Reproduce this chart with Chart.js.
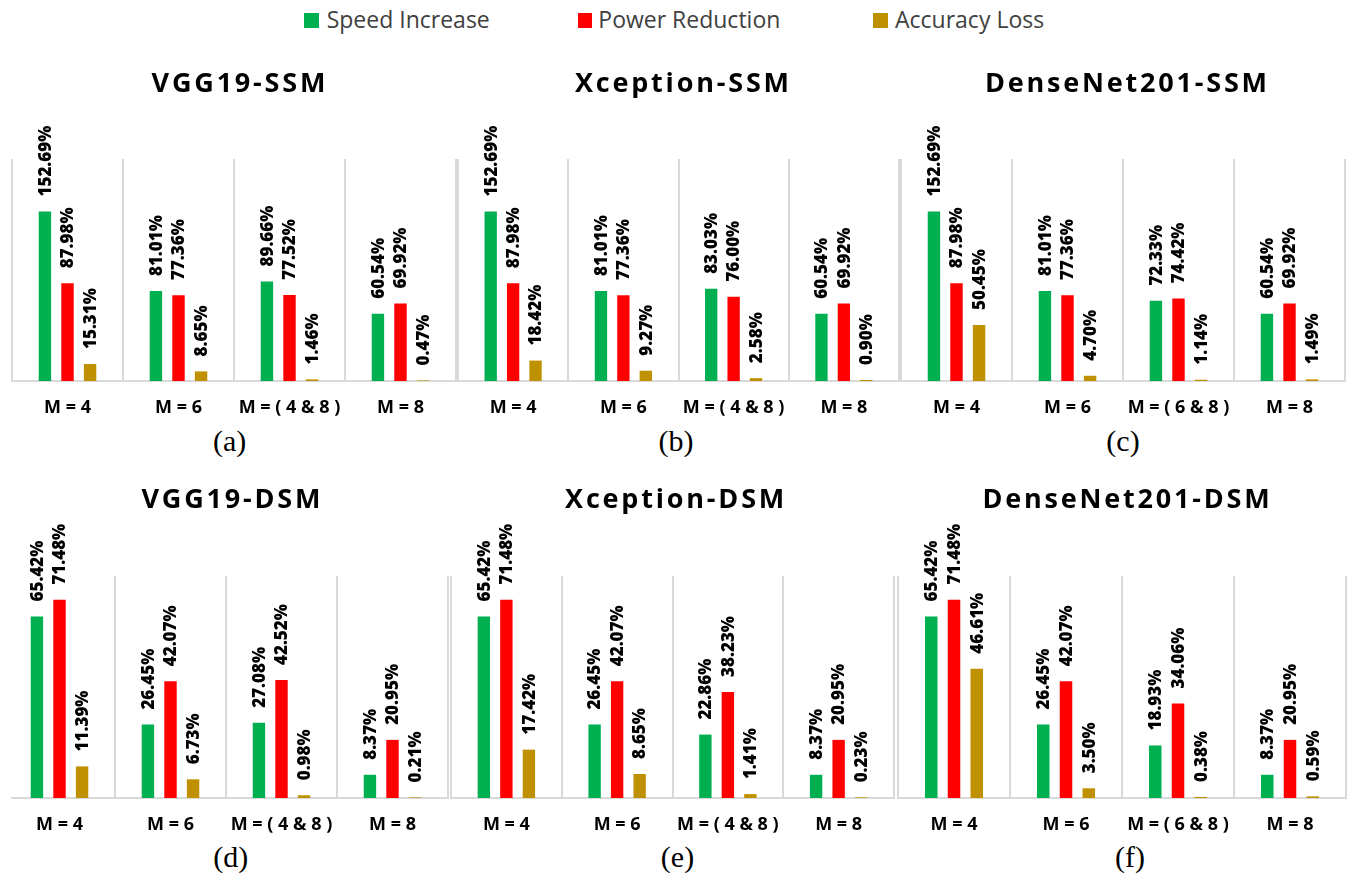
<!DOCTYPE html>
<html><head><meta charset="utf-8">
<script src="https://cdn.jsdelivr.net/npm/chart.js@4.4.1/dist/chart.umd.min.js"></script>
<style>
html,body{margin:0;padding:0;background:#fff;}
body{width:1351px;height:874px;overflow:hidden;position:relative;}
canvas{position:absolute;}
.clip{position:absolute;overflow:hidden;}
.title{position:absolute;width:400px;text-align:center;font:700 27px "Open Sans";letter-spacing:2.8px;line-height:27px;color:#000;white-space:nowrap;}
.cap{position:absolute;width:100px;text-align:center;font:400 30px "Liberation Serif";line-height:30px;color:#000;white-space:nowrap;}
.sw{position:absolute;width:14.7px;height:15px;}
.lt{position:absolute;font:400 23px "Open Sans";line-height:23px;color:#404040;white-space:nowrap;}
</style></head><body>
<script>
// ---------- data ----------
const seriesNames = ['Speed Increase', 'Power Reduction', 'Accuracy Loss'];
const seriesColors = ['#00B050', '#FF0000', '#BF9000'];

const catsM48 = ['M = 4', 'M = 6', 'M = ( 4 & 8 )', 'M = 8'];
const catsM68 = ['M = 4', 'M = 6', 'M = ( 6 & 8 )', 'M = 8'];

const panelTitles = ['VGG19-SSM', 'Xception-SSM', 'DenseNet201-SSM', 'VGG19-DSM', 'Xception-DSM', 'DenseNet201-DSM'];
const panelCaptions = ['(a)', '(b)', '(c)', '(d)', '(e)', '(f)'];

const vggSsmSpeed = [152.69, 81.01, 89.66, 60.54];
const vggSsmPower = [87.98, 77.36, 77.52, 69.92];
const vggSsmAcc   = [15.31, 8.65, 1.46, 0.47];

const xcpSsmSpeed = [152.69, 81.01, 83.03, 60.54];
const xcpSsmPower = [87.98, 77.36, 76.00, 69.92];
const xcpSsmAcc   = [18.42, 9.27, 2.58, 0.90];

const dnSsmSpeed = [152.69, 81.01, 72.33, 60.54];
const dnSsmPower = [87.98, 77.36, 74.42, 69.92];
const dnSsmAcc   = [50.45, 4.70, 1.14, 1.49];

const vggDsmSpeed = [65.42, 26.45, 27.08, 8.37];
const vggDsmPower = [71.48, 42.07, 42.52, 20.95];
const vggDsmAcc   = [11.39, 6.73, 0.98, 0.21];

const xcpDsmSpeed = [65.42, 26.45, 22.86, 8.37];
const xcpDsmPower = [71.48, 42.07, 38.23, 20.95];
const xcpDsmAcc   = [17.42, 8.65, 1.41, 0.23];

const dnDsmSpeed = [65.42, 26.45, 18.93, 8.37];
const dnDsmPower = [71.48, 42.07, 34.06, 20.95];
const dnDsmAcc   = [46.61, 3.50, 0.38, 0.59];

const ssmMax = 200;
const dsmMax = 80;

// ---------- layout (positions only) ----------
const panels = [
  {cats: catsM48, s: [vggSsmSpeed, vggSsmPower, vggSsmAcc], max: ssmMax, L: 11.5, R: 455.5, T: 159, B: 381, tx: 238.5, ty: 67.7, cx: 229.7, cy: 425.9, clipLeft: 0},
  {cats: catsM48, s: [xcpSsmSpeed, xcpSsmPower, xcpSsmAcc], max: ssmMax, L: 457.5, R: 898.5, T: 159, B: 381, tx: 682, ty: 67.7, cx: 676, cy: 425.9, clipLeft: 0},
  {cats: catsM68, s: [dnSsmSpeed, dnSsmPower, dnSsmAcc], max: ssmMax, L: 901, R: 1345, T: 159, B: 381, tx: 1126, ty: 67.7, cx: 1123, cy: 425.9, clipLeft: 0},
  {cats: catsM48, s: [vggDsmSpeed, vggDsmPower, vggDsmAcc], max: dsmMax, L: 3.5, R: 447, T: 576, B: 798, tx: 231, ty: 484, cx: 230.7, cy: 841.9, clipLeft: 11},
  {cats: catsM48, s: [xcpDsmSpeed, xcpDsmPower, xcpDsmAcc], max: dsmMax, L: 450.5, R: 893.5, T: 576, B: 798, tx: 674.7, ty: 484, cx: 677.5, cy: 841.9, clipLeft: 0},
  {cats: catsM68, s: [dnDsmSpeed, dnDsmPower, dnDsmAcc], max: dsmMax, L: 897.5, R: 1345, T: 576, B: 798, tx: 1126, ty: 484, cx: 1130, cy: 841.9, clipLeft: 0}
];

const legendPos = [
  {sx: 304.3, tx: 326.7},
  {sx: 577.7, tx: 598.3},
  {sx: 873.3, tx: 895}
];

// ---------- legend ----------
seriesNames.forEach((n, i) => {
  const sw = document.createElement('div');
  sw.className = 'sw';
  sw.style.left = legendPos[i].sx + 'px';
  sw.style.top = '13.3px';
  sw.style.background = seriesColors[i];
  document.body.appendChild(sw);
  const t = document.createElement('div');
  t.className = 'lt';
  t.style.left = legendPos[i].tx + 'px';
  t.style.top = '7.9px';
  t.textContent = n;
  document.body.appendChild(t);
});

// ---------- value label plugin ----------
const valueLabels = {
  id: 'valueLabels',
  afterDatasetsDraw(chart) {
    const ctx = chart.ctx;
    ctx.save();
    ctx.font = '800 17px "Open Sans"';
    ctx.fillStyle = '#000';
    ctx.textAlign = 'left';
    ctx.textBaseline = 'middle';
    chart.data.datasets.forEach((ds, di) => {
      chart.getDatasetMeta(di).data.forEach((bar, i) => {
        const v = ds.data[i];
        ctx.save();
        ctx.translate(bar.x + 1, bar.y - 15);
        ctx.rotate(-Math.PI / 2);
        ctx.fillText(v.toFixed(2) + '%', 0, 0);
        ctx.restore();
      });
    });
    ctx.restore();
  }
};

const PAD_TOP = 72, PAD_SIDE = 6, AXIS_H = 42;

panels.forEach((p, k) => {
  const cv = document.createElement('canvas');
  const w = Math.round(p.R - p.L + 2 * PAD_SIDE);
  const h = Math.round(p.B - p.T + PAD_TOP + AXIS_H);
  cv.width = w; cv.height = h;
  cv.style.width = w + 'px'; cv.style.height = h + 'px';
  const left = p.L - PAD_SIDE, top = p.T - PAD_TOP;
  if (p.clipLeft) {
    const box = document.createElement('div');
    box.className = 'clip';
    box.style.left = p.clipLeft + 'px';
    box.style.top = top + 'px';
    box.style.width = (left + w - p.clipLeft) + 'px';
    box.style.height = h + 'px';
    cv.style.left = (left - p.clipLeft) + 'px';
    cv.style.top = '0px';
    box.appendChild(cv);
    document.body.appendChild(box);
  } else {
    cv.style.left = left + 'px';
    cv.style.top = top + 'px';
    document.body.appendChild(cv);
  }

  const ttl = document.createElement('div');
  ttl.className = 'title';
  ttl.style.left = (p.tx - 200 + 1.4) + 'px';
  ttl.style.top = p.ty + 'px';
  ttl.textContent = panelTitles[k];
  document.body.appendChild(ttl);

  const cap = document.createElement('div');
  cap.className = 'cap';
  cap.style.left = (p.cx - 50) + 'px';
  cap.style.top = p.cy + 'px';
  cap.textContent = panelCaptions[k];
  document.body.appendChild(cap);

  new Chart(cv, {
    type: 'bar',
    data: {
      labels: p.cats,
      datasets: p.s.map((d, i) => ({
        label: seriesNames[i],
        data: d,
        backgroundColor: seriesColors[i],
        borderWidth: 0,
        categoryPercentage: 0.61,
        barPercentage: 0.55
      }))
    },
    options: {
      responsive: false,
      animation: false,
      events: [],
      layout: {padding: {top: PAD_TOP, left: PAD_SIDE, right: PAD_SIDE, bottom: 0}},
      plugins: {legend: {display: false}, title: {display: false}, tooltip: {enabled: false}},
      scales: {
        x: {
          offset: true,
          grid: {
            offset: true,
            drawTicks: false,
            lineWidth: 2,
            color: (c) => (p.clipLeft && c.index === 0) ? 'rgba(0,0,0,0)' : '#D9D9D9'
          },
          border: {display: true, color: '#D9D9D9', width: 2},
          ticks: {color: '#000', font: {family: 'Open Sans', size: 18, weight: '700'}, padding: 16, maxRotation: 0, autoSkip: false},
          afterFit: (s) => { s.height = AXIS_H; }
        },
        y: {display: false, min: 0, max: p.max}
      }
    },
    plugins: [valueLabels]
  });
});
</script>
</body></html>
